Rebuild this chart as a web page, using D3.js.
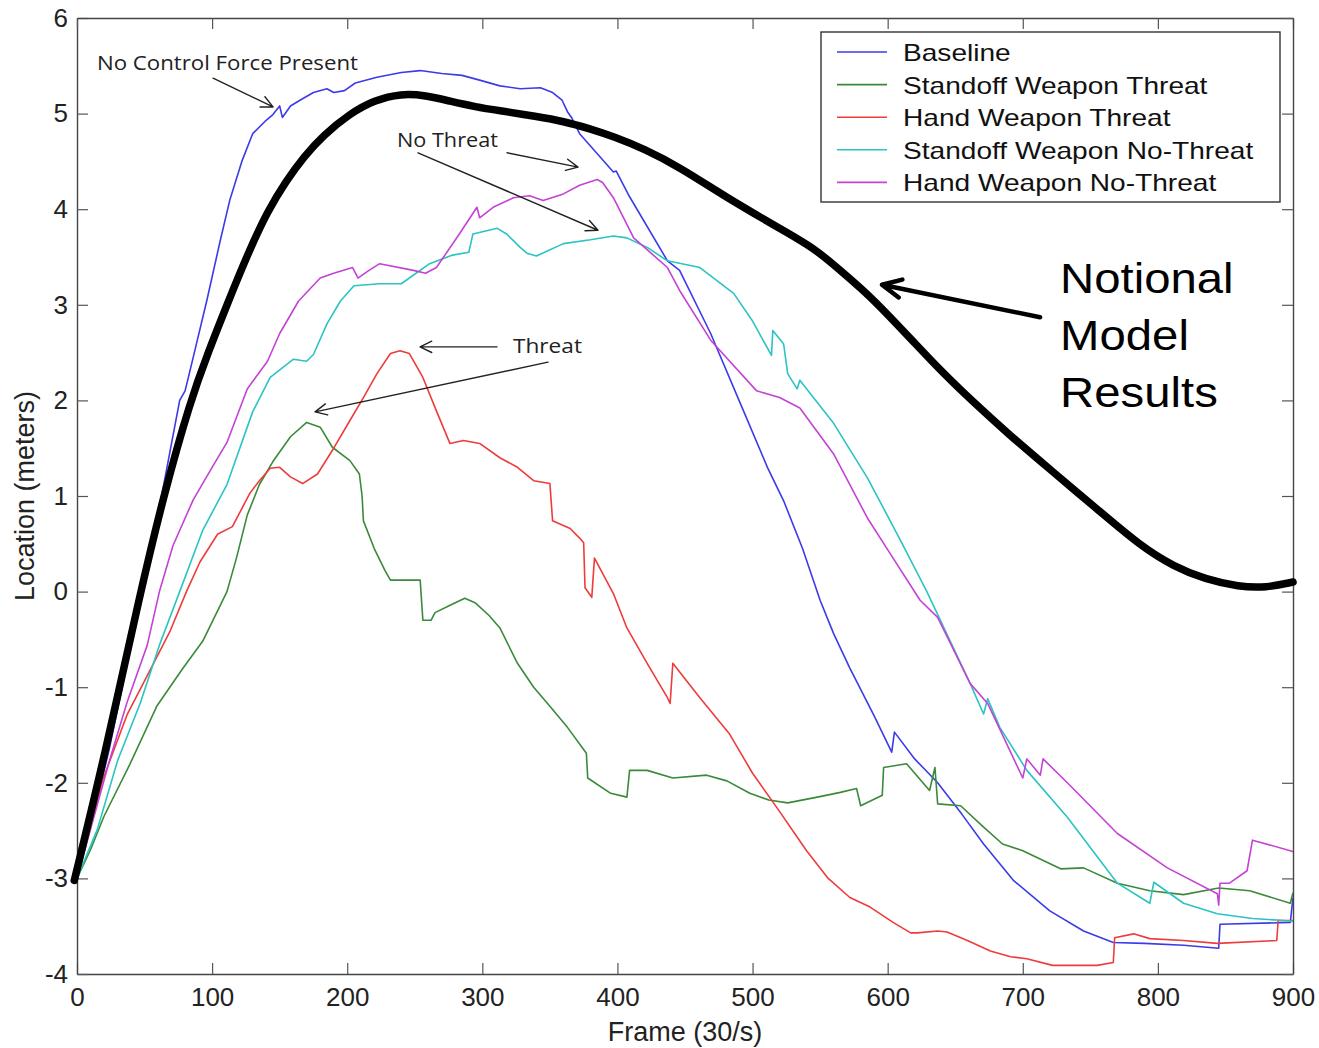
<!DOCTYPE html>
<html>
<head>
<meta charset="utf-8">
<script src="https://cdn.jsdelivr.net/npm/d3@7"></script>
<style>
  html, body { margin: 0; padding: 0; background: #fff; }
  svg { display: block; }
</style>
</head>
<body>
<svg class="location-chart" width="1319" height="1048"></svg>
<script>
// data (frame, location in meters)
var seriesNames = [
  'Baseline',
  'Standoff Weapon Threat',
  'Hand Weapon Threat',
  'Standoff Weapon No-Threat',
  'Hand Weapon No-Threat'
];

var baselineData = [
  [0, -3], [12, -2.35], [24, -1.64], [37, -0.76], [49, 0], [61, 0.88], [76, 2.0], [80, 2.1],
  [86, 2.45], [96, 3.04], [106, 3.67], [113, 4.09], [122, 4.5], [130, 4.79], [140, 4.93],
  [145, 4.99], [150, 5.08], [152, 4.96], [158, 5.08], [165, 5.14], [175, 5.22], [185, 5.26],
  [190, 5.22], [198, 5.24], [206, 5.32], [222, 5.38], [240, 5.43], [254, 5.45], [270, 5.42],
  [285, 5.4], [298, 5.35], [313, 5.29], [328, 5.26], [343, 5.27], [352, 5.22], [359, 5.14],
  [363, 5.02], [366, 4.96], [372, 4.79], [397, 4.39], [399, 4.4], [409, 4.13], [437, 3.46],
  [446, 3.36], [469, 2.7], [490, 2.0], [511, 1.3], [523, 0.95], [537, 0.45], [550, -0.09],
  [560, -0.44], [572, -0.8], [590, -1.3], [603, -1.68], [605, -1.47], [620, -1.75], [637, -2.0],
  [655, -2.33], [671, -2.64], [693, -3.02], [720, -3.34], [745, -3.55], [767, -3.67],
  [790, -3.68], [819, -3.7], [845, -3.73], [846, -3.48], [898, -3.46], [900, -3.2]
];

var standoffThreatData = [
  [0, -3], [10, -2.7], [20, -2.35], [39, -1.81], [59, -1.2], [78, -0.81], [93, -0.52], [111, 0],
  [118, 0.35], [126, 0.8], [135, 1.12], [145, 1.36], [158, 1.62], [170, 1.77], [180, 1.72],
  [189, 1.51], [202, 1.37], [209, 1.23], [211, 1.0], [212, 0.74], [220, 0.45], [228, 0.22],
  [232, 0.12], [254, 0.12], [256, -0.3], [262, -0.3], [265, -0.22], [275, -0.15], [287, -0.07],
  [295, -0.12], [305, -0.25], [313, -0.38], [326, -0.75], [338, -1.0], [350, -1.2], [363, -1.42],
  [377, -1.69], [378, -1.95], [395, -2.11], [407, -2.15], [409, -1.87], [422, -1.87], [441, -1.95],
  [466, -1.92], [481, -1.98], [498, -2.11], [512, -2.18], [526, -2.21], [548, -2.15], [565, -2.1],
  [577, -2.06], [580, -2.24], [596, -2.13], [597, -1.84], [614, -1.8], [631, -2.08], [635, -1.84],
  [637, -2.22], [654, -2.24], [670, -2.45], [685, -2.64], [700, -2.71], [728, -2.9], [745, -2.89],
  [770, -3.05], [794, -3.13], [819, -3.17], [845, -3.1], [868, -3.13], [898, -3.26], [900, -3.15]
];

var handThreatData = [
  [0, -3], [19, -1.97], [37, -1.29], [52, -0.88], [69, -0.41], [81, 0], [91, 0.31], [104, 0.6],
  [115, 0.68], [128, 1.03], [135, 1.16], [143, 1.29], [150, 1.3], [158, 1.2], [167, 1.13],
  [178, 1.23], [190, 1.5], [202, 1.79], [212, 2.03], [222, 2.28], [232, 2.49], [239, 2.52],
  [246, 2.49], [256, 2.24], [266, 1.89], [276, 1.55], [286, 1.58], [298, 1.55], [313, 1.4],
  [326, 1.3], [338, 1.16], [350, 1.13], [352, 0.74], [365, 0.66], [372, 0.56], [375, 0.51],
  [376, 0.04], [381, -0.06], [383, 0.35], [397, -0.02], [407, -0.38], [422, -0.75], [437, -1.11],
  [439, -1.17], [441, -0.75], [461, -1.11], [483, -1.49], [500, -1.9], [518, -2.26], [540, -2.71],
  [556, -3.0], [572, -3.2], [587, -3.3], [604, -3.46], [617, -3.57], [622, -3.57], [637, -3.55],
  [644, -3.56], [659, -3.65], [676, -3.76], [691, -3.82], [703, -3.84], [722, -3.91], [755, -3.91],
  [767, -3.88], [768, -3.62], [782, -3.58], [794, -3.63], [819, -3.65], [844, -3.68], [888, -3.65],
  [889, -3.44], [900, -3.44]
];

var standoffNoThreatData = [
  [0, -3], [15, -2.49], [30, -1.77], [47, -1.16], [61, -0.56], [76, 0], [93, 0.64], [111, 1.12],
  [130, 1.88], [143, 2.24], [160, 2.43], [170, 2.41], [175, 2.48], [185, 2.8], [195, 3.04],
  [205, 3.2], [224, 3.22], [240, 3.22], [261, 3.43], [278, 3.52], [290, 3.55], [293, 3.74],
  [311, 3.8], [318, 3.74], [328, 3.6], [333, 3.54], [340, 3.51], [360, 3.64], [380, 3.68],
  [397, 3.72], [407, 3.7], [422, 3.6], [437, 3.46], [461, 3.39], [486, 3.12], [500, 2.83],
  [514, 2.47], [515, 2.73], [523, 2.59], [526, 2.28], [533, 2.12], [535, 2.21], [560, 1.76],
  [585, 1.19], [609, 0.55], [629, 0.0], [638, -0.27], [661, -0.96], [671, -1.28], [674, -1.12],
  [683, -1.42], [703, -1.87], [733, -2.36], [770, -3.05], [794, -3.26], [797, -3.04], [819, -3.26],
  [844, -3.37], [870, -3.42], [893, -3.44], [900, -3.45]
];

var handNoThreatData = [
  [0, -3], [24, -1.77], [37, -1.16], [52, -0.56], [61, 0], [71, 0.48], [86, 0.96], [100, 1.3],
  [111, 1.56], [126, 2.12], [141, 2.41], [150, 2.7], [164, 3.04], [180, 3.28], [190, 3.33],
  [204, 3.39], [208, 3.28], [215, 3.35], [224, 3.43], [249, 3.36], [258, 3.33], [266, 3.39],
  [283, 3.74], [296, 4.02], [298, 3.91], [308, 4.02], [323, 4.12], [335, 4.14], [345, 4.09],
  [360, 4.16], [372, 4.25], [385, 4.31], [389, 4.28], [397, 4.12], [412, 3.7], [437, 3.39],
  [446, 3.15], [469, 2.63], [503, 2.1], [520, 2.03], [535, 1.92], [560, 1.44], [585, 0.77],
  [604, 0.35], [624, -0.09], [637, -0.27], [661, -0.96], [674, -1.17], [700, -1.95], [703, -1.75],
  [713, -1.92], [715, -1.75], [733, -2.0], [770, -2.53], [807, -2.89], [844, -3.16], [845, -3.28],
  [846, -3.05], [853, -3.05], [866, -2.92], [870, -2.6], [898, -2.71], [900, -2.72]
];

var notionalData = [
  [-2, -3.02], [20, -1.75], [47, 0], [64, 1.0], [84, 2.0], [97, 2.5], [111, 3.0], [126, 3.52],
  [141, 3.98], [155, 4.3], [168, 4.55], [182, 4.77], [202, 5.0], [220, 5.14], [240, 5.21],
  [258, 5.19], [276, 5.13], [295, 5.07], [313, 5.03], [340, 4.97], [360, 4.92], [380, 4.84],
  [397, 4.76], [420, 4.63], [446, 4.44], [481, 4.12], [520, 3.8], [545, 3.6], [565, 3.36],
  [583, 3.14], [600, 2.9], [620, 2.6], [640, 2.3], [662, 2.0], [690, 1.64], [720, 1.28],
  [757, 0.84], [787, 0.48], [812, 0.26], [835, 0.13], [860, 0.05], [880, 0.04], [900, 0.1]
];

var xTicks = [0, 100, 200, 300, 400, 500, 600, 700, 800, 900];
var yTicks = [-4, -3, -2, -1, 0, 1, 2, 3, 4, 5, 6];

(function LocationChartModule() {

  'use strict';

  // vars
  var _svg = d3.select('.location-chart'),
    _left = 77,
    _right = 1293,
    _top = 18,
    _bottom = 974,
    _colors = ['#3b3bea', '#3a8a3a', '#ee3b3b', '#2cc3c3', '#c443d4'],
    _font = '"Liberation Sans", Arial, sans-serif';

  var x = d3.scaleLinear().domain([0, 900]).range([_left, _right]);
  var y = d3.scaleLinear().domain([-4, 6]).range([_bottom, _top]);

  var allSeries = [baselineData, standoffThreatData, handThreatData, standoffNoThreatData, handNoThreatData];

  renderAxes();
  renderSeries();
  renderLegend();
  renderNotes();
  renderNotional();

  // method definitions
  function renderAxes() {
    // plain hyphen minus, as in the original figure
    var plain = function (d) { return String(d); };
    var bottom = d3.axisBottom(x).tickValues(xTicks).tickFormat(plain).tickSizeInner(-11).tickSizeOuter(0).tickPadding(14);
    var left = d3.axisLeft(y).tickValues(yTicks).tickFormat(plain).tickSizeInner(-11).tickSizeOuter(0).tickPadding(9);
    var top = d3.axisTop(x).tickValues(xTicks).tickSizeInner(-11).tickSizeOuter(0).tickFormat('');
    var right = d3.axisRight(y).tickValues(yTicks).tickSizeInner(-11).tickSizeOuter(0).tickFormat('');

    styleAxis(_svg.append('g').attr('transform', 'translate(0,' + _bottom + ')').call(bottom));
    styleAxis(_svg.append('g').attr('transform', 'translate(' + _left + ',0)').call(left));
    styleAxis(_svg.append('g').attr('transform', 'translate(0,' + _top + ')').call(top));
    styleAxis(_svg.append('g').attr('transform', 'translate(' + _right + ',0)').call(right));

    // axis titles
    _svg.append('text')
      .attr('x', (_left + _right) / 2)
      .attr('y', 1041)
      .attr('text-anchor', 'middle')
      .style('font-family', _font)
      .style('font-size', '27px')
      .style('fill', '#222')
      .text('Frame (30/s)');

    _svg.append('text')
      .attr('transform', 'translate(34,' + ((_top + _bottom) / 2) + ') rotate(-90)')
      .attr('text-anchor', 'middle')
      .style('font-family', _font)
      .style('font-size', '27px')
      .style('fill', '#222')
      .text('Location (meters)');
  }

  function styleAxis(g) {
    g.select('.domain').attr('stroke', '#444').attr('stroke-width', 1.4);
    g.selectAll('.tick line').attr('stroke', '#555').attr('stroke-width', 1.2);
    g.selectAll('.tick text')
      .style('font-family', _font)
      .style('font-size', '26px')
      .style('fill', '#222');
  }

  function renderSeries() {
    _svg.append('clipPath').attr('id', 'plot-clip')
      .append('rect')
      .attr('x', _left).attr('y', _top)
      .attr('width', _right - _left).attr('height', _bottom - _top);

    var line = d3.line()
      .x(function (d) { return x(d[0]); })
      .y(function (d) { return y(d[1]); });

    _svg.append('g')
      .attr('clip-path', 'url(#plot-clip)')
      .selectAll('path')
      .data(allSeries)
      .enter()
      .append('path')
      .attr('d', line)
      .attr('fill', 'none')
      .attr('stroke', function (d, i) { return _colors[i]; })
      .attr('stroke-width', 1.6)
      .attr('stroke-linejoin', 'round');
  }

  function renderLegend() {
    var g = _svg.append('g').attr('transform', 'translate(821,32)');

    g.append('rect')
      .attr('width', 459).attr('height', 170)
      .attr('fill', '#fff')
      .attr('stroke', '#333')
      .attr('stroke-width', 1.4);

    var rows = g.selectAll('.row')
      .data(seriesNames)
      .enter()
      .append('g')
      .attr('class', 'row')
      .attr('transform', function (d, i) { return 'translate(0,' + (20 + i * 32.6) + ')'; });

    rows.append('line')
      .attr('x1', 16).attr('x2', 66)
      .attr('stroke', function (d, i) { return _colors[i]; })
      .attr('stroke-width', 1.6);

    rows.append('text')
      .attr('x', 82)
      .attr('y', 9)
      .style('font-family', _font)
      .style('font-size', '24px')
      .style('fill', '#111')
      .text(function (d) { return d; })
      .each(function () { stretch(this, 1.17); });
  }

  function stretch(node, k) {
    var w = node.getComputedTextLength();
    d3.select(node).attr('textLength', w * k).attr('lengthAdjust', 'spacingAndGlyphs');
  }

  function renderNotes() {
    var notes = [
      { text: 'No Control Force Present', at: [14.8, 5.46], width: 261 },
      { text: 'No Threat', at: [236.8, 4.65], width: 101 },
      { text: 'Threat', at: [322.7, 2.5], width: 69 }
    ];
    var pointers = [
      { from: [100.7, 5.37], to: [145.1, 5.07] },
      { from: [318.3, 4.59], to: [370.8, 4.44] },
      { from: [252.4, 4.59], to: [385.6, 3.78] },
      { from: [310.9, 2.56], to: [253.9, 2.56] },
      { from: [348.6, 2.4], to: [176.2, 1.88] }
    ];

    _svg.append('g')
      .selectAll('text')
      .data(notes)
      .enter()
      .append('text')
      .attr('x', function (d) { return x(d.at[0]); })
      .attr('y', function (d) { return y(d.at[1]); })
      .attr('textLength', function (d) { return d.width; })
      .attr('lengthAdjust', 'spacingAndGlyphs')
      .style('font-family', '"Open Sans", sans-serif')
      .style('font-size', '20px')
      .style('fill', '#222')
      .text(function (d) { return d.text; });

    pointers.forEach(function drawPointer(p) {
      drawArrow(_svg, x(p.from[0]), y(p.from[1]), x(p.to[0]), y(p.to[1]), 13, 1.4, '#222');
    });
  }

  function renderNotional() {
    var curve = d3.line()
      .curve(d3.curveBasis)
      .x(function (d) { return x(d[0]); })
      .y(function (d) { return y(d[1]); });

    _svg.append('path')
      .datum(notionalData)
      .attr('d', curve)
      .attr('fill', 'none')
      .attr('stroke', '#000')
      .attr('stroke-width', 7.5)
      .attr('stroke-linecap', 'round')
      .attr('stroke-linejoin', 'round');

    var label = _svg.append('text')
      .style('font-family', _font)
      .style('font-size', '43px')
      .style('fill', '#000');

    [['Notional', 3.12], ['Model', 2.53], ['Results', 1.93]].forEach(function (l) {
      var t = label.append('tspan')
        .attr('x', x(727.6))
        .attr('y', y(l[1]))
        .text(l[0]);
      stretch(t.node(), 1.1);
    });

    drawArrow(_svg, x(712.8), y(2.87), x(595.8), y(3.21), 21, 4.5, '#000');
  }

  function drawArrow(g, x1, y1, x2, y2, head, width, color) {
    var a = Math.atan2(y2 - y1, x2 - x1),
      s = Math.PI / 7;
    var path = d3.path();
    path.moveTo(x1, y1);
    path.lineTo(x2, y2);
    path.moveTo(x2 - head * Math.cos(a - s), y2 - head * Math.sin(a - s));
    path.lineTo(x2, y2);
    path.lineTo(x2 - head * Math.cos(a + s), y2 - head * Math.sin(a + s));

    g.append('path')
      .attr('d', path.toString())
      .attr('fill', 'none')
      .attr('stroke', color)
      .attr('stroke-width', width)
      .attr('stroke-linecap', 'round')
      .attr('stroke-linejoin', 'round');
  }

})();
</script>
</body>
</html>
